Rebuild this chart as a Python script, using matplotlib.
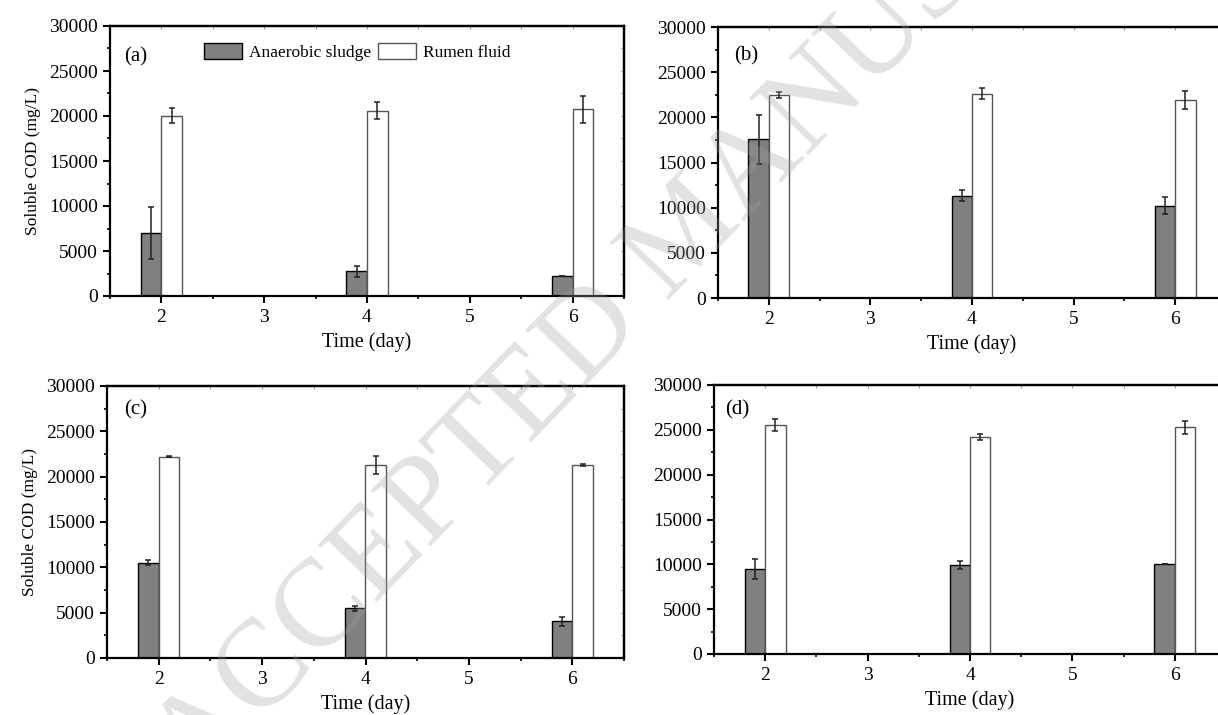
import numpy as np
import matplotlib
matplotlib.use("Agg")
import matplotlib.pyplot as plt
from matplotlib.ticker import MultipleLocator
from matplotlib.patches import Patch

plt.rcParams["font.family"] = ["Liberation Serif", "DejaVu Serif"]

days = [2, 4, 6]

# Soluble COD (mg/L), mean and error, per panel
sludge_a = [7000, 2740, 2220]
sludge_a_err = [2890, 610, 40]
rumen_a = [20040, 20590, 20740]
rumen_a_err = [830, 925, 1500]

sludge_b = [17560, 11330, 10220]
sludge_b_err = [2740, 590, 960]
rumen_b = [22440, 22630, 21890]
rumen_b_err = [315, 590, 1000]

sludge_c = [10520, 5480, 4040]
sludge_c_err = [240, 300, 460]
rumen_c = [22190, 21300, 21300]
rumen_c_err = [40, 980, 70]

sludge_d = [9480, 9960, 10040]
sludge_d_err = [1130, 460, 40]
rumen_d = [25520, 24190, 25300]
rumen_d_err = [700, 300, 720]

panels = [
    ("(a)", sludge_a, sludge_a_err, rumen_a, rumen_a_err),
    ("(b)", sludge_b, sludge_b_err, rumen_b, rumen_b_err),
    ("(c)", sludge_c, sludge_c_err, rumen_c, rumen_c_err),
    ("(d)", sludge_d, sludge_d_err, rumen_d, rumen_d_err),
]

W, H = 1218, 715
# axes boxes in pixels: left, top, right, bottom
boxes = [
    (110, 26, 624, 296),
    (718, 27, 1226, 298),
    (107, 386, 624, 658),
    (714, 385, 1226, 654),
]
label_off = [(14, 31), (16, 29), (17, 24), (11, 25)]

fig = plt.figure(figsize=(W / 100, H / 100), dpi=100)

bw = 0.2
for i, ((tag, s, se, r, re), (l, t, rr, b)) in enumerate(zip(panels, boxes)):
    ax = fig.add_axes([l / W, 1 - b / H, (rr - l) / W, (b - t) / H])
    x = np.array(days)
    ax.bar(x - bw / 2, s, bw, color="#808080", edgecolor="black", linewidth=1.0, zorder=2)
    ax.bar(x + bw / 2, r, bw, color="white", edgecolor="#555555", linewidth=1.0, zorder=2)
    ax.errorbar(x - bw / 2, s, yerr=se, fmt="none", ecolor="#222222",
                elinewidth=1.1, capsize=2.5, capthick=1.1, zorder=3)
    ax.errorbar(x + bw / 2, r, yerr=re, fmt="none", ecolor="#222222",
                elinewidth=1.1, capsize=2.5, capthick=1.1, zorder=3)

    ax.set_xlim(1.5, 6.5)
    ax.set_ylim(0, 30000)
    ax.set_xticks([2, 3, 4, 5, 6])
    ax.set_yticks(range(0, 30001, 5000))
    ax.xaxis.set_minor_locator(MultipleLocator(0.5))
    ax.yaxis.set_minor_locator(MultipleLocator(2500))
    ax.tick_params(axis="both", which="major", direction="out", length=5,
                   width=1.5, labelsize=14)
    ax.tick_params(axis="x", which="major", pad=4)
    ax.tick_params(axis="both", which="minor", direction="out", length=2.5, width=1.2)
    for sp in ax.spines.values():
        sp.set_linewidth(1.6)

    # faint inward ticks on the top and right spines
    top = ax.secondary_xaxis("top")
    top.set_xticks(np.arange(1.5, 6.51, 0.5))
    top.tick_params(direction="in", length=2, width=0.8, color="#999999", labeltop=False)
    top.spines["top"].set_linewidth(1.6)
    right = ax.secondary_yaxis("right")
    right.set_yticks(range(0, 30001, 2500))
    right.tick_params(direction="in", length=2, width=0.8, color="#999999", labelright=False)
    right.spines["right"].set_linewidth(1.6)

    ax.set_xlabel("Time (day)", fontsize=14.5, labelpad=5)
    if i % 2 == 0:
        ax.set_ylabel("Soluble COD (mg/L)", fontsize=12.5, labelpad=6)

    dx, dy = label_off[i]
    ax.text(dx / (rr - l), 1 - dy / (b - t), tag, transform=ax.transAxes,
            fontsize=15, ha="left", va="center")

    if i == 0:
        handles = [Patch(facecolor="#808080", edgecolor="black", linewidth=1.0),
                   Patch(facecolor="white", edgecolor="#555555", linewidth=1.0)]
        ax.legend(handles, ["Anaerobic sludge", "Rumen fluid"], ncol=2,
                  loc="center left", bbox_to_anchor=(94 / (rr - l), 1 - 26 / (b - t)),
                  frameon=False, fontsize=12.5, handlelength=2.2, handleheight=1.0,
                  handletextpad=0.4, columnspacing=0.4, borderaxespad=0, borderpad=0)

fig.text(690 / W, 1 - 235 / H, "ACCEPTED MANUSCRIPT", rotation=46,
         rotation_mode="anchor", ha="center", va="center", fontsize=90,
         color="#a0a0a0", alpha=0.3, zorder=10)

fig.savefig("out.png", dpi=100)
